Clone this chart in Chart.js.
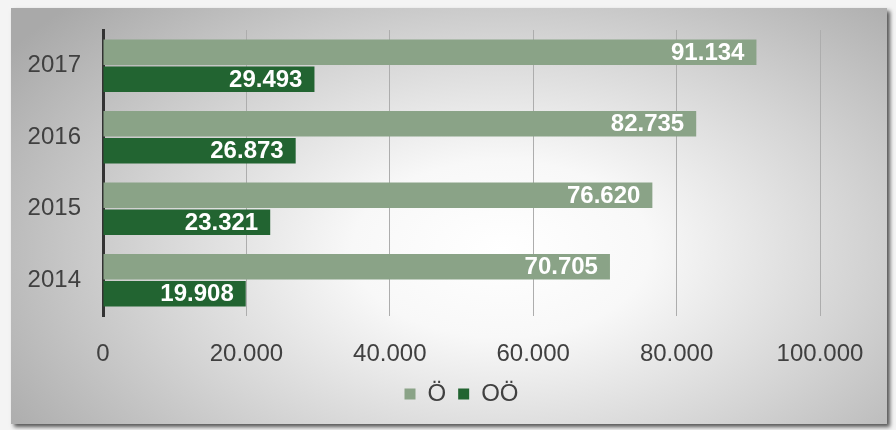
<!DOCTYPE html>
<html>
<head>
<meta charset="utf-8">
<script src="https://cdn.jsdelivr.net/npm/chart.js@4"></script>
<style>
  body { margin: 0; background: #f4f4f4; width: 896px; height: 430px; overflow: hidden; position: relative; }
  #panel {
    position: absolute; left: 11px; top: 8px; width: 876px; height: 416px;
    background: radial-gradient(ellipse 68% 85% at 56% 58%, #ffffff 0%, #f8f8f8 25%, #d4d4d4 60%, #a9a9a9 100%);
    box-shadow: 3px 3px 4px rgba(0,0,0,0.65);
  }
  #chart { position: absolute; left: 0; top: 0; }
</style>
</head>
<body>
<div id="panel"></div>
<canvas id="chart" width="896" height="430"></canvas>
<script>
const years = ['2017', '2016', '2015', '2014'];
const series_names = ['Ö', 'OÖ'];
const values_o = [91134, 82735, 76620, 70705];
const values_oo = [29493, 26873, 23321, 19908];
const colors = ['#8aa387', '#226431'];
const font_family = '"Liberation Sans", Arial, sans-serif';

function format_number (n) {
  return String(n).replace(/\B(?=(\d{3})+(?!\d))/g, '.');
}

// white value labels at the inner end of each bar
const bar_labels = {
  id: 'bar_labels',
  afterDatasetsDraw (chart) {
    const ctx = chart.ctx;
    ctx.save();
    ctx.font = 'bold 24px ' + font_family;
    ctx.fillStyle = '#ffffff';
    ctx.textAlign = 'right';
    ctx.textBaseline = 'middle';
    chart.data.datasets.forEach(function (ds, i) {
      chart.getDatasetMeta(i).data.forEach(function (bar, j) {
        ctx.fillText(format_number(ds.data[j]), bar.x - 12, bar.y + 1);
      });
    });
    ctx.restore();
  }
};

const canvas = document.getElementById('chart');

new Chart(canvas, {
  type: 'bar',
  data: {
    labels: years,
    datasets: [
      { label: series_names[0], data: values_o, backgroundColor: colors[0] },
      { label: series_names[1], data: values_oo, backgroundColor: colors[1] }
    ]
  },
  options: {
    indexAxis: 'y',
    responsive: false,
    animation: false,
    devicePixelRatio: 1,
    categoryPercentage: 0.755,
    barPercentage: 0.945,
    layout: { padding: { left: 0, right: 76, top: 30, bottom: 14 } },
    scales: {
      x: {
        min: 0,
        max: 100000,
        afterFit: (scale) => { scale.height = 54; },
        ticks: {
          stepSize: 20000,
          color: '#404040',
          padding: 24,
          maxRotation: 0,
          font: { family: font_family, size: 24 },
          callback: (v) => format_number(v)
        },
        grid: { color: '#adadad', lineWidth: 1, drawTicks: false },
        border: { display: false }
      },
      y: {
        afterFit: (scale) => {
          scale.width = 103;
          scale.paddingTop = 0;
          scale.paddingBottom = 0;
        },
        ticks: {
          color: '#404040',
          padding: 22,
          font: { family: font_family, size: 24 }
        },
        grid: { display: false, drawTicks: false },
        border: { display: true, color: '#333333', width: 3 }
      }
    },
    plugins: {
      legend: {
        position: 'bottom',
        fullSize: false,
        labels: {
          boxWidth: 11,
          boxHeight: 11,
          padding: 12,
          color: '#404040',
          font: { family: font_family, size: 24 }
        }
      },
      tooltip: { enabled: false }
    }
  },
  plugins: [bar_labels]
});
</script>
</body>
</html>
